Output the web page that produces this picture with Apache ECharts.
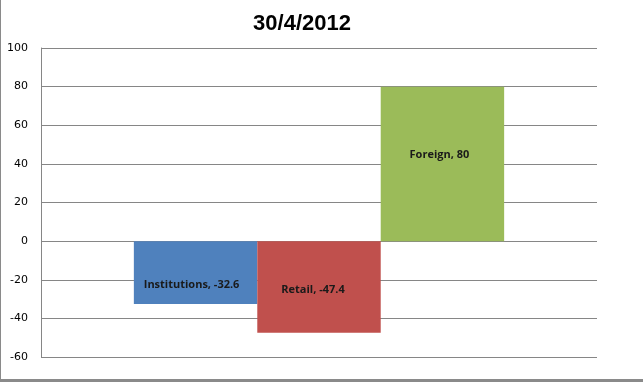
<!DOCTYPE html>
<html>
<head>
<meta charset="utf-8">
<script src="https://cdn.jsdelivr.net/npm/echarts@6/dist/echarts.min.js"></script>
<style>
html,body{margin:0;padding:0;background:#fff;}
#wrap{position:absolute;left:0;top:0;width:643px;height:382px;box-sizing:border-box;border-left:1px solid #8a8a8a;border-bottom:3px solid #8a8a8a;}
#chart{position:absolute;left:0;top:0;width:643px;height:382px;}
</style>
</head>
<body>
<div id="chart"></div>
<div id="wrap"></div>
<script>
const titleText = "30/4/2012";
const categories = [""];
const seriesNames = ["Institutions", "Retail", "Foreign"];
const seriesValues = [-32.6, -47.4, 80];
const yTicks = { min: -60, max: 100, interval: 20 };

const colors = ["#4F81BD", "#C0504D", "#9BBB59"];
const labelOffsets = [[-4, 12], [-6, 3], [-3, -9]];

const chart = echarts.init(document.getElementById('chart'), null, { renderer: 'canvas' });
const series = seriesNames.map((name, i) => ({
  name: name,
  type: 'bar',
  data: [seriesValues[i]],
  barGap: '0%',
  barCategoryGap: '33.4%',
  itemStyle: { color: colors[i] },
  label: {
    show: true,
    position: 'inside',
    offset: labelOffsets[i],
    formatter: p => p.seriesName + ', ' + p.value,
    color: '#1a1a1a',
    fontWeight: 'bold',
    fontSize: 11,
    fontFamily: 'Open Sans, Liberation Sans, sans-serif'
  },
  emphasis: { disabled: true },
  animation: false
}));

chart.setOption({
  animation: false,
  title: {
    text: titleText,
    left: 297,
    top: 8,
    textAlign: 'center',
    textStyle: { fontSize: 22, fontWeight: 'bold', color: '#000', fontFamily: 'Liberation Sans, Arial, sans-serif' }
  },
  grid: { left: 41, right: 46, top: 48, bottom: 25, containLabel: false },
  xAxis: {
    type: 'category',
    data: categories,
    axisLine: { show: false },
    axisTick: { show: false },
    axisLabel: { show: false }
  },
  yAxis: {
    type: 'value',
    min: yTicks.min,
    max: yTicks.max,
    interval: yTicks.interval,
    axisLine: { show: true, lineStyle: { color: '#868686', width: 1 } },
    axisTick: { show: false },
    axisLabel: { color: '#000', fontSize: 11, margin: 13, fontFamily: 'DejaVu Sans, Verdana, sans-serif' },
    splitLine: { show: true, lineStyle: { color: '#868686', width: 1 } }
  },
  series: series
});
</script>
</body>
</html>
